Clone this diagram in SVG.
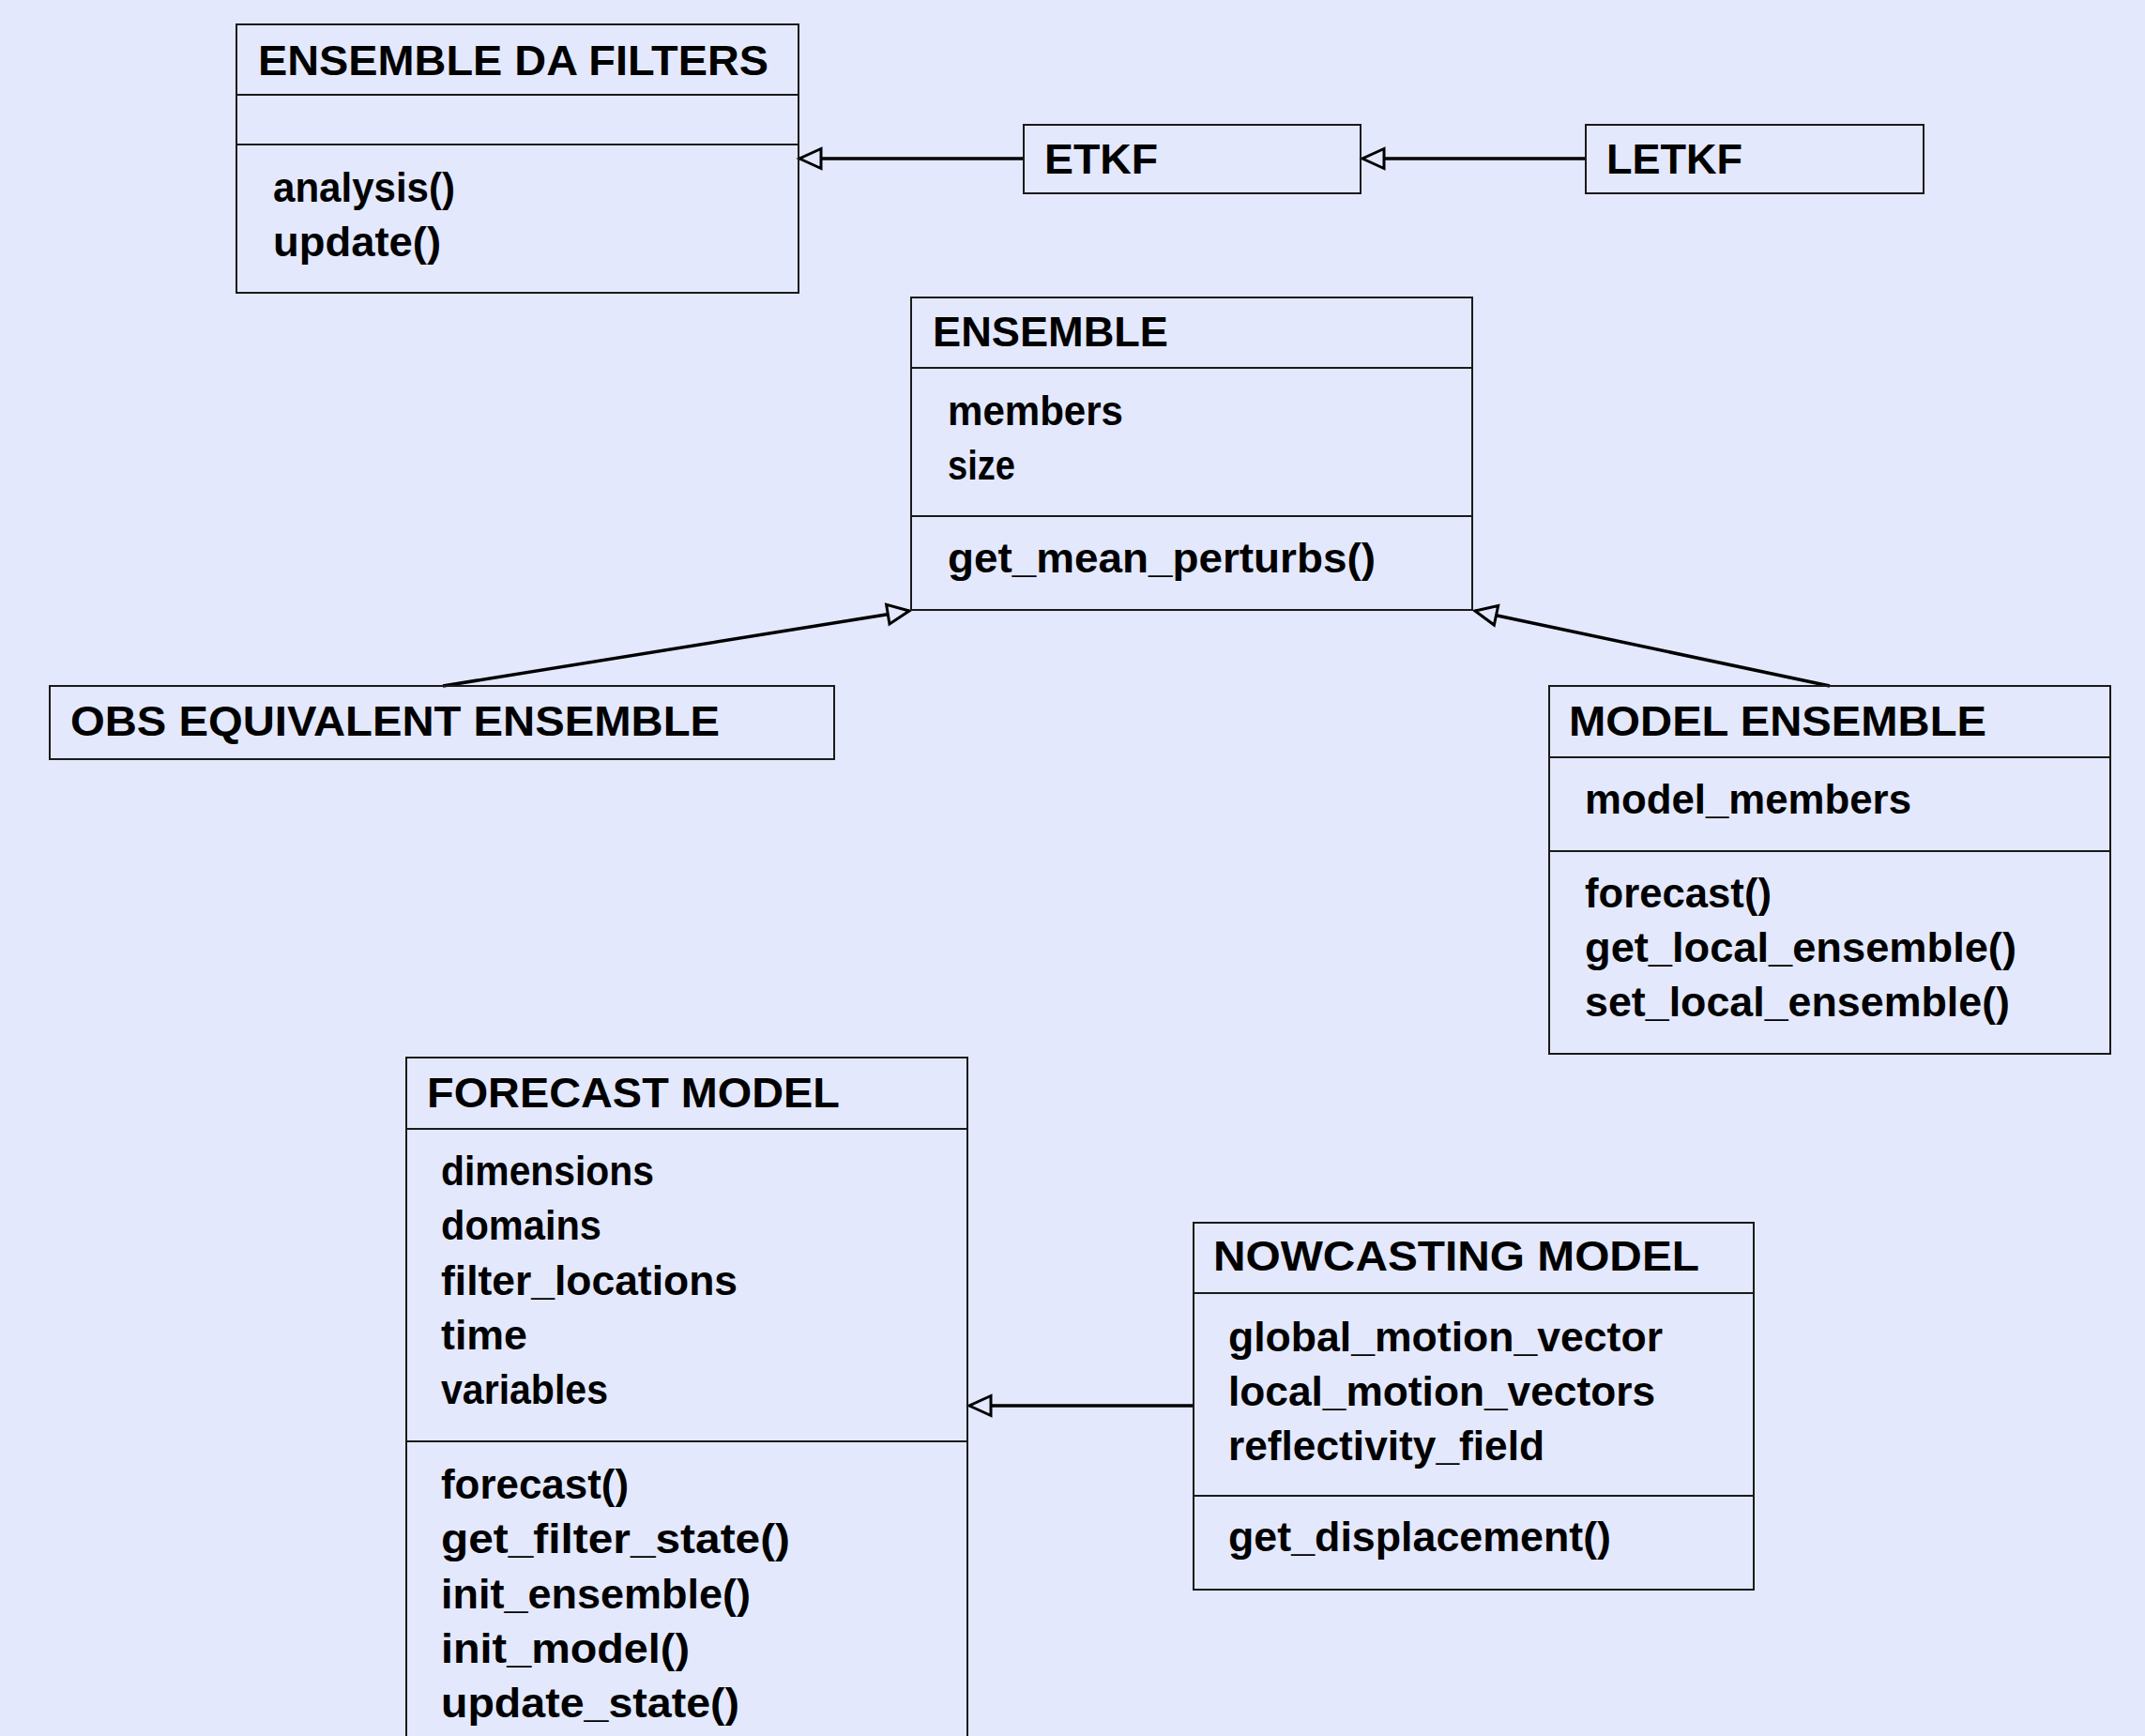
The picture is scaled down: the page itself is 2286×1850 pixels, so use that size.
<svg xmlns="http://www.w3.org/2000/svg" width="2286" height="1850" viewBox="0 0 2286 1850">
  <defs>
    <style>
      .bg { fill: #e3e8fc; }
      .box { fill: none; stroke: #1a1a1a; stroke-width: 2; }
      .sep { stroke: #1a1a1a; stroke-width: 2; }
      text { font-family: "Liberation Sans", Arial, sans-serif; font-weight: bold; fill: #000; }
      .title { font-size: 45px; }
      .item { font-size: 44px; }
      .edge { fill: none; stroke: #000; stroke-width: 3.5; }
    </style>
    <!-- hollow inheritance triangle -->
    <marker id="tri" markerUnits="userSpaceOnUse" viewBox="-3 -3 29 27" markerWidth="29" markerHeight="27" refX="23" refY="10.5" orient="auto" overflow="visible">
      <path d="M23,10.5 L0,0 L0,21 Z" fill="#e3e8fc" stroke="#000" stroke-width="3"/>
    </marker>
  </defs>

  <rect class="bg" x="0" y="0" width="2286" height="1850"/>

  <!-- generalisation connectors -->
  <g id="connectors">
    <path class="edge" d="M1091,169 L852,169" marker-end="url(#tri)"/>
    <path class="edge" d="M1690,169 L1452,169" marker-end="url(#tri)"/>
    <path class="edge" d="M472,731 L969,651" marker-end="url(#tri)"/>
    <path class="edge" d="M1950,731 L1572,651" marker-end="url(#tri)"/>
    <path class="edge" d="M1272,1498 L1033,1498" marker-end="url(#tri)"/>
  </g>

  <g id="ensemble-da-filters">
    <rect class="box" x="252" y="26" width="599" height="286"/>
    <line class="sep" x1="252" y1="101" x2="851" y2="101"/>
    <line class="sep" x1="252" y1="154" x2="851" y2="154"/>
    <text class="title" x="275" y="80" textLength="544" lengthAdjust="spacingAndGlyphs">ENSEMBLE DA FILTERS</text>
    <text class="item" x="291" y="215" textLength="194" lengthAdjust="spacingAndGlyphs">analysis()</text>
    <text class="item" x="291" y="273" textLength="179" lengthAdjust="spacingAndGlyphs">update()</text>
  </g>

  <g id="etkf">
    <rect class="box" x="1091" y="133" width="359" height="73"/>
    <text class="title" x="1113" y="185" textLength="121" lengthAdjust="spacingAndGlyphs">ETKF</text>
  </g>

  <g id="letkf">
    <rect class="box" x="1690" y="133" width="360" height="73"/>
    <text class="title" x="1712" y="185" textLength="145" lengthAdjust="spacingAndGlyphs">LETKF</text>
  </g>

  <g id="ensemble">
    <rect class="box" x="971" y="317" width="598" height="333"/>
    <line class="sep" x1="971" y1="392" x2="1569" y2="392"/>
    <line class="sep" x1="971" y1="550" x2="1569" y2="550"/>
    <text class="title" x="994" y="369" textLength="251" lengthAdjust="spacingAndGlyphs">ENSEMBLE</text>
    <text class="item" x="1010" y="453" textLength="187" lengthAdjust="spacingAndGlyphs">members</text>
    <text class="item" x="1010" y="511" textLength="72" lengthAdjust="spacingAndGlyphs">size</text>
    <text class="item" x="1010" y="610" textLength="456" lengthAdjust="spacingAndGlyphs">get_mean_perturbs()</text>
  </g>

  <g id="obs-equivalent-ensemble">
    <rect class="box" x="53" y="731" width="836" height="78"/>
    <text class="title" x="75" y="784" textLength="692" lengthAdjust="spacingAndGlyphs">OBS EQUIVALENT ENSEMBLE</text>
  </g>

  <g id="model-ensemble">
    <rect class="box" x="1651" y="731" width="598" height="392"/>
    <line class="sep" x1="1651" y1="807" x2="2249" y2="807"/>
    <line class="sep" x1="1651" y1="907" x2="2249" y2="907"/>
    <text class="title" x="1672" y="784" textLength="445" lengthAdjust="spacingAndGlyphs">MODEL ENSEMBLE</text>
    <text class="item" x="1689" y="867" textLength="348" lengthAdjust="spacingAndGlyphs">model_members</text>
    <text class="item" x="1689" y="967" textLength="199" lengthAdjust="spacingAndGlyphs">forecast()</text>
    <text class="item" x="1689" y="1025" textLength="460" lengthAdjust="spacingAndGlyphs">get_local_ensemble()</text>
    <text class="item" x="1689" y="1083" textLength="453" lengthAdjust="spacingAndGlyphs">set_local_ensemble()</text>
  </g>

  <g id="forecast-model">
    <rect class="box" x="433" y="1127" width="598" height="800"/>
    <line class="sep" x1="433" y1="1203" x2="1031" y2="1203"/>
    <line class="sep" x1="433" y1="1536" x2="1031" y2="1536"/>
    <text class="title" x="455" y="1180" textLength="440" lengthAdjust="spacingAndGlyphs">FORECAST MODEL</text>
    <text class="item" x="470" y="1263" textLength="227" lengthAdjust="spacingAndGlyphs">dimensions</text>
    <text class="item" x="470" y="1321" textLength="171" lengthAdjust="spacingAndGlyphs">domains</text>
    <text class="item" x="470" y="1380" textLength="316" lengthAdjust="spacingAndGlyphs">filter_locations</text>
    <text class="item" x="470" y="1438" textLength="92" lengthAdjust="spacingAndGlyphs">time</text>
    <text class="item" x="470" y="1496" textLength="178" lengthAdjust="spacingAndGlyphs">variables</text>
    <text class="item" x="470" y="1597" textLength="200" lengthAdjust="spacingAndGlyphs">forecast()</text>
    <text class="item" x="470" y="1655" textLength="372" lengthAdjust="spacingAndGlyphs">get_filter_state()</text>
    <text class="item" x="470" y="1714" textLength="330" lengthAdjust="spacingAndGlyphs">init_ensemble()</text>
    <text class="item" x="470" y="1772" textLength="265" lengthAdjust="spacingAndGlyphs">init_model()</text>
    <text class="item" x="470" y="1830" textLength="318" lengthAdjust="spacingAndGlyphs">update_state()</text>
  </g>

  <g id="nowcasting-model">
    <rect class="box" x="1272" y="1303" width="597" height="391"/>
    <line class="sep" x1="1272" y1="1378" x2="1869" y2="1378"/>
    <line class="sep" x1="1272" y1="1594" x2="1869" y2="1594"/>
    <text class="title" x="1293" y="1354" textLength="518" lengthAdjust="spacingAndGlyphs">NOWCASTING MODEL</text>
    <text class="item" x="1309" y="1440" textLength="463" lengthAdjust="spacingAndGlyphs">global_motion_vector</text>
    <text class="item" x="1309" y="1498" textLength="455" lengthAdjust="spacingAndGlyphs">local_motion_vectors</text>
    <text class="item" x="1309" y="1556" textLength="337" lengthAdjust="spacingAndGlyphs">reflectivity_field</text>
    <text class="item" x="1309" y="1653" textLength="408" lengthAdjust="spacingAndGlyphs">get_displacement()</text>
  </g>
</svg>
